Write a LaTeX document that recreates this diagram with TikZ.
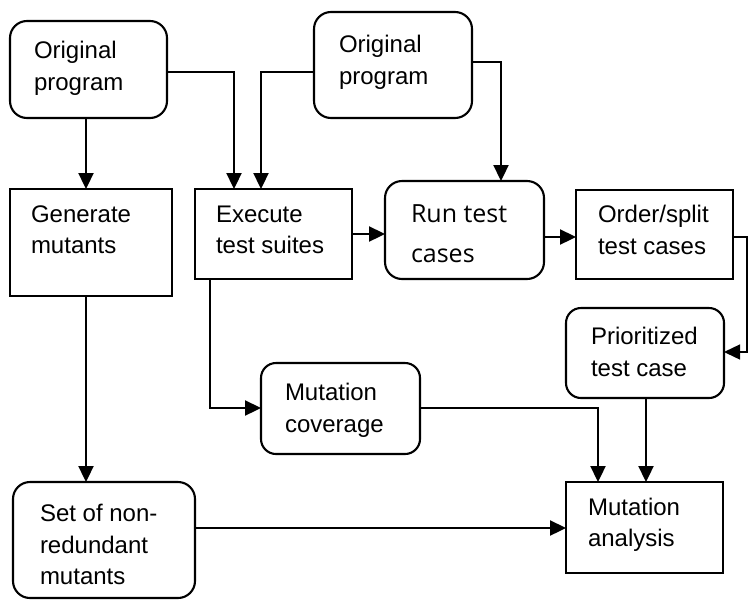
\documentclass[tikz,border=0pt]{standalone}
\usepackage{fontspec}
\setmainfont{Liberation Sans}
\newfontfamily\runfont{Open Sans}
\usetikzlibrary{arrows.meta,calc}
\begin{document}
\begin{tikzpicture}[x=1pt,y=-1pt,
 box/.style={draw,line width=2.1pt,rectangle,inner sep=0pt,outer sep=0pt,anchor=north west},
 rbox/.style={box,rounded corners=17pt},
 lbl/.style={anchor=north west,inner sep=0pt,outer sep=0pt,align=left,font=\fontsize{24}{31.5}\selectfont},
 arr/.style={line width=2.3pt,-{Triangle[length=16pt,width=15pt]}},
 thinarr/.style={line width=1.4pt,-{Triangle[length=16pt,width=15pt]}}]
\useasboundingbox (0,0) rectangle (754,600);
% boxes
\node[rbox,minimum width=157pt,minimum height=97pt] (op1) at (10,21) {};
\node[rbox,minimum width=158pt,minimum height=106pt] (op2) at (314,12) {};
\node[box,minimum width=162pt,minimum height=107pt] (gm) at (10,189) {};
\node[box,minimum width=157pt,minimum height=90pt] (exe) at (195,189) {};
\node[rbox,minimum width=159pt,minimum height=98pt] (run) at (385,181) {};
\node[box,minimum width=157pt,minimum height=89pt] (ord) at (576,190) {};
\node[rbox,rounded corners=15pt,minimum width=158pt,minimum height=90pt] (pri) at (566,308) {};
\node[rbox,rounded corners=15pt,minimum width=159pt,minimum height=91pt] (cov) at (261,363) {};
\node[rbox,minimum width=182pt,minimum height=116pt] (set) at (13,482) {};
\node[box,minimum width=157pt,minimum height=91pt] (ma) at (566,482) {};
% labels
\node[lbl] (top1) at (34,41.6) {Original\\program};
\node[lbl] (top2) at (339,35.6) {Original\\program};
\node[lbl] (tgm) at (31,205.6) {Generate\\mutants};
\node[lbl] (texe) at (216,205.6) {Execute\\test suites};
\node[lbl,font=\runfont\fontsize{25}{40}\selectfont] (trun) at (411,205) {Run test\\cases};
\node[lbl] (tord) at (598,205.6) {Order/split\\test cases};
\node[lbl] (tpri) at (591,327.6) {Prioritized\\test case};
\node[lbl] (tcov) at (285,383.6) {Mutation\\coverage};
\node[lbl] (tset) at (40,504.6) {Set of non-\\redundant\\mutants};
\node[lbl] (tma) at (588,497.6) {Mutation\\analysis};
% helper coordinates
\coordinate (xa) at (86,0);
\coordinate (xb) at (234,0);
\coordinate (xc) at (261,0);
\coordinate (xd) at (501,0);
\coordinate (xe) at (747,0);
\coordinate (xf) at (210,0);
\coordinate (xg) at (598,0);
\coordinate (xh) at (646,0);
\coordinate (ya) at (0,72);
\coordinate (yb) at (0,62);
\coordinate (yc) at (0,234);
\coordinate (yd) at (0,237);
\coordinate (ye) at (0,352);
\coordinate (yf) at (0,408);
\coordinate (yg) at (0,528);
% connectors
\draw[arr] (xa |- op1.south) -- (xa |- gm.north);
\draw[arr] (op1.east |- ya) -| (xb |- exe.north);
\draw[arr] (op2.west |- ya) -| (xc |- exe.north);
\draw[arr] (op2.east |- yb) -| (xd |- run.north);
\draw[arr] (exe.east |- yc) -- (run.west |- yc);
\draw[arr] (run.east |- yd) -- (ord.west |- yd);
\draw[thinarr] (ord.east |- yd) -| (xe |- ye) -- (pri.east |- ye);
\draw[arr] (xf |- exe.south) |- (cov.west |- yf);
\draw[arr] (xa |- gm.south) -- (xa |- set.north);
\draw[arr] (cov.east |- yf) -| (xg |- ma.north);
\draw[arr] (xh |- pri.south) -- (xh |- ma.north);
\draw[arr] (set.east |- yg) -- (ma.west |- yg);
\end{tikzpicture}
\end{document}
